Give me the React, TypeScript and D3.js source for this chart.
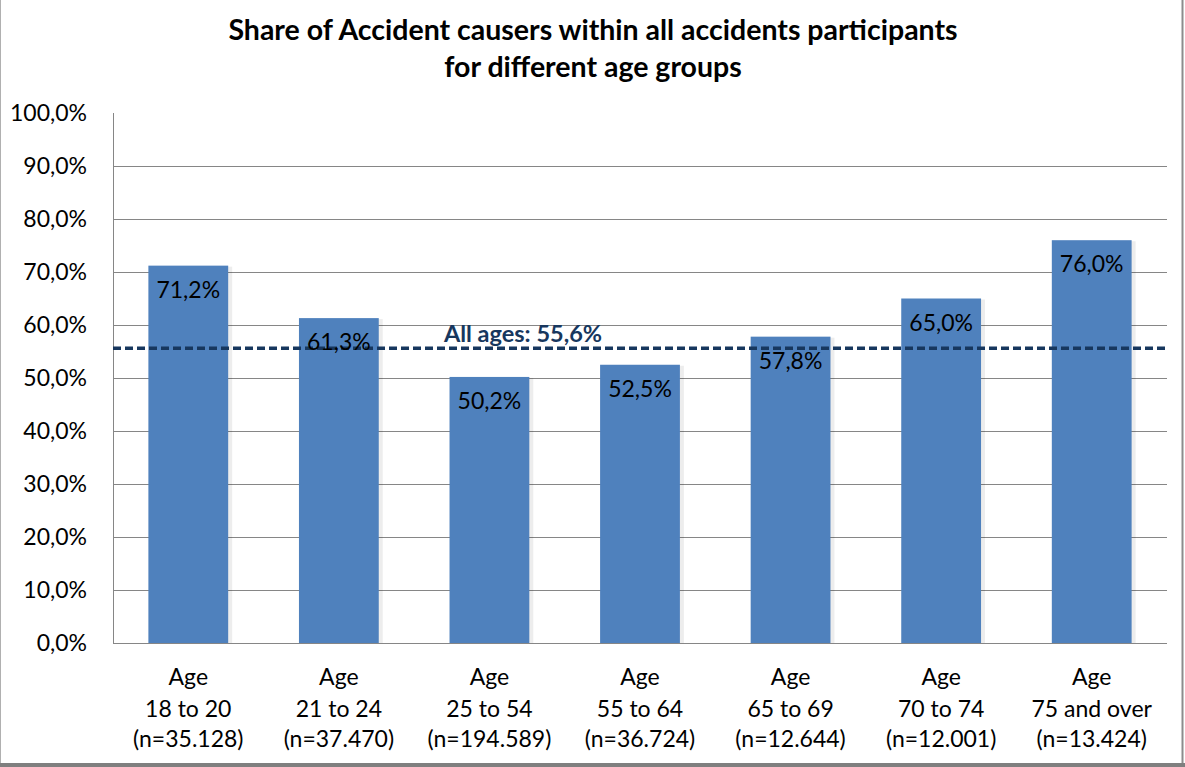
import React from "react";
import * as d3 from "d3";

// Age groups and their share of accident causers (%)
const groups = ["18 to 20", "21 to 24", "25 to 54", "55 to 64", "65 to 69", "70 to 74", "75 and over"];
const sampleSizes = ["35.128", "37.470", "194.589", "36.724", "12.644", "12.001", "13.424"];
const shares = [71.2, 61.3, 50.2, 52.5, 57.8, 65.0, 76.0];
const allAgesShare = 55.6;
const yTicks = [0, 10, 20, 30, 40, 50, 60, 70, 80, 90, 100];
const titleLines = ["Share of Accident causers within all accidents participants", "for different age groups"];

const W = 1185;
const H = 767;
const margin = { left: 113, right: 18, top: 113, bottom: 124 };
const FONT = "Lato, 'Open Sans', sans-serif";
const BAR = "#4F81BD";
const NAVY = "#17375E";
const GRID = "#868686";

const fmt = (v: number) => v.toFixed(1).replace(".", ",") + "%";

export default function App() {
  const x = d3
    .scaleBand<string>()
    .domain(groups)
    .range([margin.left, W - margin.right])
    .paddingInner(0.47)
    .paddingOuter(0.235);
  const y = d3.scaleLinear().domain([0, 100]).range([H - margin.bottom, margin.top]);
  const x0 = margin.left;
  const x1 = W - margin.right;
  const yAll = y(allAgesShare);

  return (
    <div style={{ position: "fixed", left: 0, top: 0 }}>
      <svg width={W} height={H} style={{ display: "block", background: "#fff" }} fontFamily={FONT}>
        {/* frame */}
        <line x1={0.5} y1={0} x2={0.5} y2={H} stroke="#b0b0b0" strokeWidth={1} />
        <line x1={1182.5} y1={0} x2={1182.5} y2={H} stroke="#8c8c8c" strokeWidth={2} />
        <rect x={0} y={763} width={W} height={4} fill="#7f7f7f" />

        {/* title */}
        {titleLines.map((t, i) => (
          <text key={i} x={593} y={40 + i * 37} textAnchor="middle" fontSize={28.5} fontWeight={700} fill="#000">
            {t}
          </text>
        ))}

        {/* gridlines and y labels */}
        {yTicks.map((t) => (
          <g key={t}>
            {t > 0 && t < 100 && (
              <line x1={x0} x2={x1} y1={Math.round(y(t)) + 0.5} y2={Math.round(y(t)) + 0.5} stroke={GRID} strokeWidth={1} />
            )}
            <text x={87} y={y(t)} dy="0.35em" textAnchor="end" fontSize={23} fill="#000">
              {fmt(t)}
            </text>
          </g>
        ))}

        {/* axes */}
        <line x1={x0 + 0.5} x2={x0 + 0.5} y1={y(100)} y2={y(0)} stroke={GRID} strokeWidth={1} />

        {/* bars */}
        {groups.map((g, i) => {
          const bx = x(g)!;
          const bw = x.bandwidth();
          const top = y(shares[i]);
          return (
            <g key={g}>
              <rect x={bx + 1} y={top + 1} width={bw + 3} height={y(0) - top - 1} fill="#000" opacity={0.07} />
              <rect x={bx} y={top} width={bw} height={y(0) - top} fill={BAR} />
            </g>
          );
        })}

        <line x1={x0} x2={x1} y1={Math.round(y(0)) + 0.5} y2={Math.round(y(0)) + 0.5} stroke={GRID} strokeWidth={1} />

        {/* overall reference line */}
        <line x1={x0} x2={x1} y1={yAll} y2={yAll} stroke={NAVY} strokeWidth={3.5} strokeDasharray="8 4" />
        <text x={x0 + (x1 - x0) * 0.389} y={yAll - 6} textAnchor="middle" fontSize={23.5} fontWeight={700} fill={NAVY}>
          {"All ages: " + fmt(allAgesShare)}
        </text>

        {/* value labels */}
        {groups.map((g, i) => (
          <text key={g} x={x(g)! + x.bandwidth() / 2} y={y(shares[i]) + 32} textAnchor="middle" fontSize={23} fill="#000">
            {fmt(shares[i])}
          </text>
        ))}

        {/* category labels */}
        {groups.map((g, i) => {
          const cx = x(g)! + x.bandwidth() / 2;
          return (
            <text key={g} x={cx} textAnchor="middle" fontSize={23} fill="#000">
              <tspan x={cx} y={685}>Age</tspan>
              <tspan x={cx} y={716.5}>{g}</tspan>
              <tspan x={cx} y={747}>{"(n=" + sampleSizes[i] + ")"}</tspan>
            </text>
          );
        })}
      </svg>
    </div>
  );
}
